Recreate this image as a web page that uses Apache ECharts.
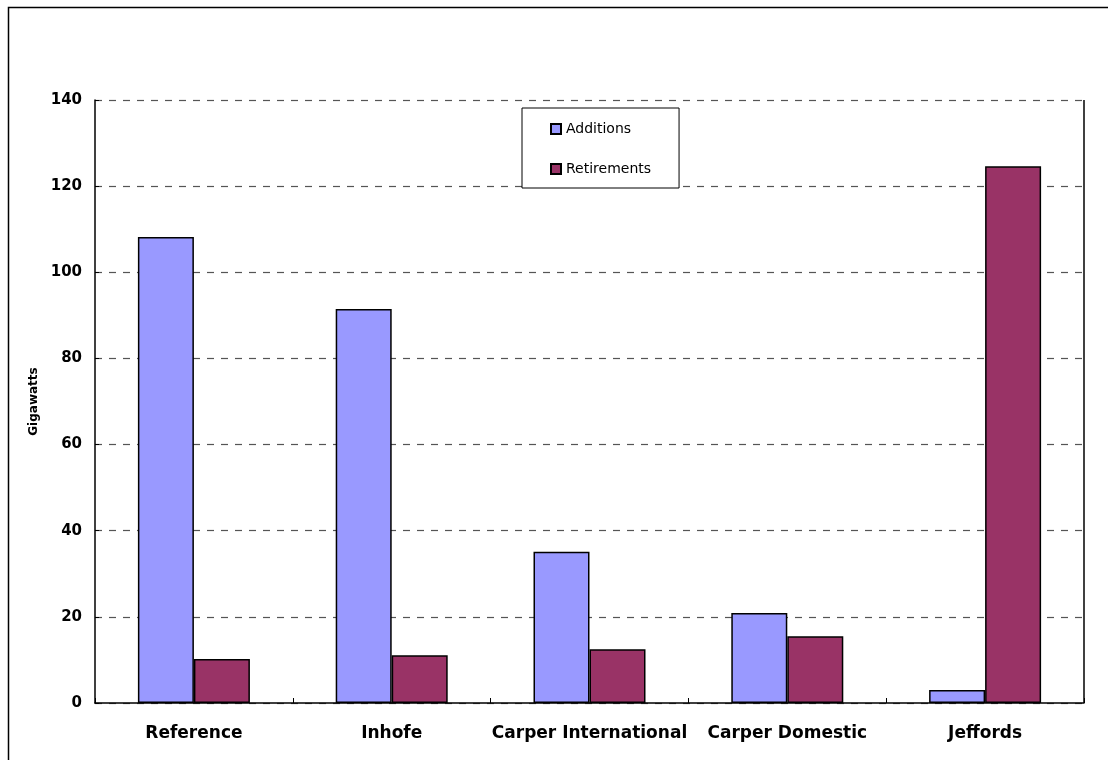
<!DOCTYPE html>
<html>
<head>
<meta charset="utf-8">
<script src="https://cdn.jsdelivr.net/npm/echarts@6/dist/echarts.min.js"></script>
<style>
  html, body { margin: 0; padding: 0; background: #fff; }
  #chart { width: 1108px; height: 760px; }
</style>
</head>
<body>
<div id="chart"></div>
<script>
// Capacity additions and retirements by scenario (GW)
const categories = ['Reference', 'Inhofe', 'Carper International', 'Carper Domestic', 'Jeffords'];
const additions = [108.2, 91.5, 35.1, 20.9, 3.0];
const retirements = [10.2, 11.1, 12.5, 15.5, 124.6];
const yTicks = [0, 20, 40, 60, 80, 100, 120, 140];

const FONT = '"DejaVu Sans", "Liberation Sans", Arial, sans-serif';
const chart = echarts.init(document.getElementById('chart'), null, { renderer: 'canvas' });

chart.setOption({
  backgroundColor: '#fff',
  animation: false,
  textStyle: { fontFamily: FONT },
  graphic: [{
    type: 'rect',
    shape: { x: 8.5, y: 7.5, width: 1200, height: 1000 },
    style: { fill: 'none', stroke: '#000', lineWidth: 1.5 },
    silent: true,
    z: -10
  }, {
    // right-hand edge of the plot area
    type: 'line',
    shape: { x1: 1084, y1: 100, x2: 1084, y2: 703 },
    style: { stroke: '#000', lineWidth: 1.5 },
    silent: true
  }],
  grid: { left: 95, right: 24, top: 100, bottom: 57, containLabel: false },
  legend: {
    left: 522,
    top: 108,
    orient: 'vertical',
    itemWidth: 10,
    itemHeight: 10,
    itemGap: 26,
    icon: 'rect',
    padding: [14, 28, 12, 28],
    backgroundColor: '#fff',
    borderColor: '#000',
    borderWidth: 1,
    textStyle: { fontFamily: FONT, fontSize: 14, color: '#000', lineHeight: 14 },
    data: ['Additions', 'Retirements']
  },
  xAxis: {
    type: 'category',
    data: categories,
    axisLine: { lineStyle: { color: '#000', width: 1.5 } },
    axisTick: { show: true, inside: true, interval: 0, length: 5, lineStyle: { color: '#000' } },
    axisLabel: { fontFamily: FONT, fontSize: 17, fontWeight: 'bold', color: '#000', margin: 22, interval: 0 }
  },
  yAxis: {
    type: 'value',
    min: 0,
    max: 140,
    interval: 20,
    name: 'Gigawatts',
    nameLocation: 'middle',
    nameGap: 51,
    nameRotate: 90,
    nameTextStyle: { fontFamily: FONT, fontSize: 12, fontWeight: 'bold', color: '#000' },
    axisLine: { show: true, lineStyle: { color: '#000', width: 1.5 } },
    axisTick: { show: true, inside: true, length: 4, lineStyle: { color: '#000' } },
    axisLabel: {
      fontFamily: FONT, fontSize: 15, fontWeight: 'bold', color: '#000', margin: 13,
      formatter: v => (yTicks.includes(v) ? String(v) : '')
    },
    splitLine: { show: true, lineStyle: { color: '#555', type: [7, 7], width: 1.2 } }
  },
  series: [{
    name: 'Additions',
    type: 'bar',
    data: additions,
    barWidth: 56,
    barGap: '0%',
    itemStyle: { color: '#9999FF', borderColor: '#000', borderWidth: 1.5 }
  }, {
    name: 'Retirements',
    type: 'bar',
    data: retirements,
    barWidth: 56,
    itemStyle: { color: '#993366', borderColor: '#000', borderWidth: 1.5 }
  }]
});
</script>
</body>
</html>
